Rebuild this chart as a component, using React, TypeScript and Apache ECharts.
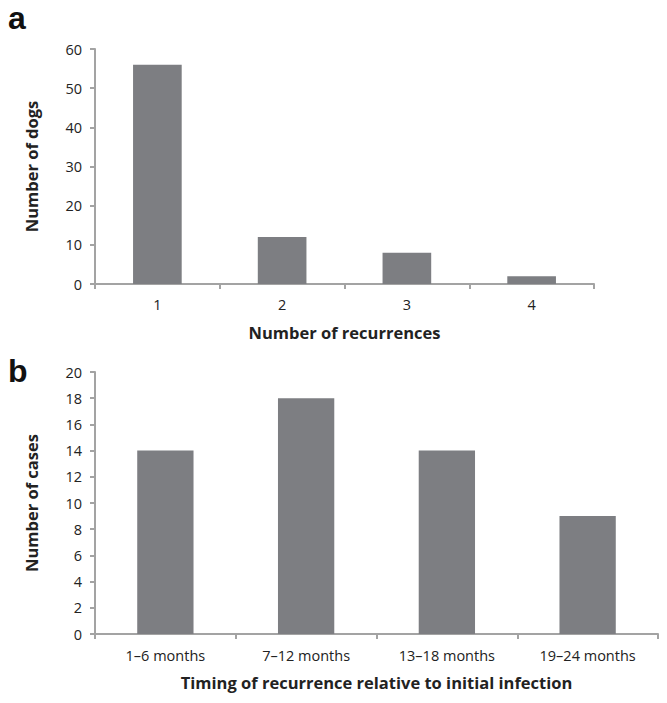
import React, { useEffect, useRef } from "react";
import * as echarts from "echarts";

const recurrenceCats = ["1", "2", "3", "4"];
const dogCounts = [56, 12, 8, 2];
const timingCats = ["1–6 months", "7–12 months", "13–18 months", "19–24 months"];
const caseCounts = [14, 18, 14, 9];

const FONT = "'Open Sans', 'Liberation Sans', sans-serif";
const AXIS_COLOR = "#a3a3a3";
const BAR_COLOR = "#7d7e82";
const TEXT_COLOR = "#222";

export default function App() {
  const ref = useRef<HTMLDivElement>(null);
  useEffect(() => {
    if (!ref.current) return;
    const chart = echarts.init(ref.current, undefined, { renderer: "svg" });
    const axisLine = { show: true, lineStyle: { color: AXIS_COLOR, width: 2 } };
    const axisTick = { show: true, length: 5, lineStyle: { color: AXIS_COLOR, width: 2 } };
    const labelStyle = { color: TEXT_COLOR, fontFamily: FONT, fontSize: 14.5 };
    const nameStyle = { color: TEXT_COLOR, fontFamily: FONT, fontSize: 16.5, fontWeight: "bold" as const };
    chart.setOption({
      animation: false,
      textStyle: { fontFamily: FONT },
      graphic: [
        { type: "text", left: 8, top: 2, style: { text: "a", font: "bold 32px 'Liberation Sans', Arial, sans-serif", fill: "#111" } },
        { type: "text", left: 8, top: 355, style: { text: "b", font: "bold 32px 'Liberation Sans', Arial, sans-serif", fill: "#111" } },
      ],
      grid: [
        { left: 95, right: 73, top: 49, bottom: 419 },
        { left: 95, right: 9, top: 372, bottom: 69 },
      ],
      xAxis: [
        {
          type: "category", gridIndex: 0, data: recurrenceCats,
          axisLine, axisTick,
          axisLabel: { ...labelStyle, margin: 13 },
          name: "Number of recurrences", nameLocation: "middle", nameGap: 40, nameTextStyle: nameStyle,
        },
        {
          type: "category", gridIndex: 1, data: timingCats,
          axisLine, axisTick,
          axisLabel: { ...labelStyle, margin: 14 },
          name: "Timing of recurrence relative to initial infection", nameLocation: "middle", nameGap: 40, nameTextStyle: nameStyle,
        },
      ],
      yAxis: [
        {
          type: "value", gridIndex: 0, min: 0, max: 60, interval: 10,
          axisLine, axisTick, splitLine: { show: false },
          axisLabel: { ...labelStyle, margin: 13 },
          name: "Number of dogs", nameLocation: "middle", nameGap: 55, nameRotate: 90, nameTextStyle: nameStyle,
        },
        {
          type: "value", gridIndex: 1, min: 0, max: 20, interval: 2,
          axisLine, axisTick, splitLine: { show: false },
          axisLabel: { ...labelStyle, margin: 13 },
          name: "Number of cases", nameLocation: "middle", nameGap: 55, nameRotate: 90, nameTextStyle: nameStyle,
        },
      ],
      series: [
        { type: "bar", xAxisIndex: 0, yAxisIndex: 0, data: dogCounts, barWidth: "39%", itemStyle: { color: BAR_COLOR } },
        { type: "bar", xAxisIndex: 1, yAxisIndex: 1, data: caseCounts, barWidth: "40%", itemStyle: { color: BAR_COLOR } },
      ],
    });
    return () => chart.dispose();
  }, []);
  return (
    <div
      ref={ref}
      style={{ position: "absolute", left: 0, top: 0, width: 667, height: 703, background: "#fff" }}
    />
  );
}
